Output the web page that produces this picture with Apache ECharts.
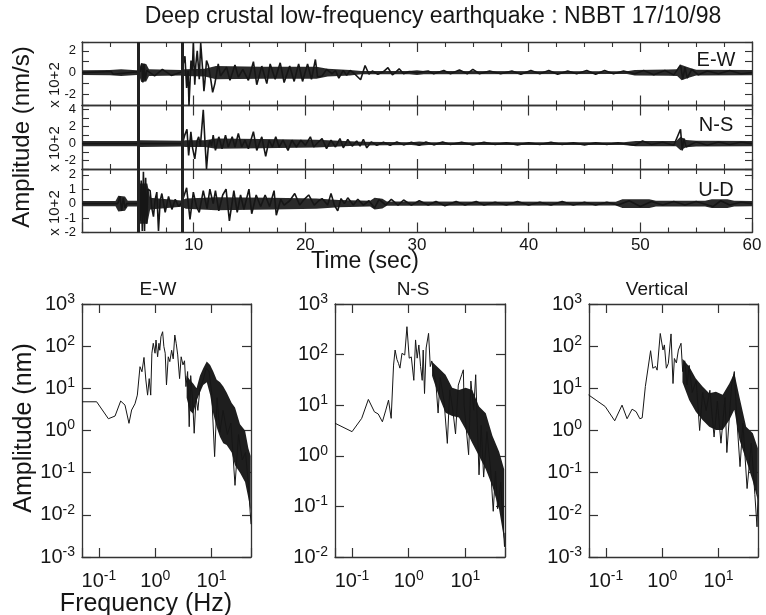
<!DOCTYPE html>
<html>
<head>
<meta charset="utf-8">
<title>Deep crustal low-frequency earthquake</title>
<script src="https://cdn.jsdelivr.net/npm/echarts@6/dist/echarts.min.js"></script>
<style>
  html, body { margin: 0; padding: 0; background: #fff; }
  #chart { width: 766px; height: 615px; }
</style>
</head>
<body>
<div id="chart"></div>
<script>
// ---- seismograms (x10^2 nm/s) ----
// noise envelope, half width
var ewNoiseTime = [0, 2.5, 3.5, 4.9, 5.15, 5.3, 5.75, 6.0, 8.9, 9.2, 11, 12, 16, 21, 22, 24, 25, 29.3, 30, 30.6, 48.8, 49.5, 52.5, 53.3, 53.7, 54.4, 55, 60];
var ewNoiseHalf = [0.22, 0.24, 0.3, 0.22, 0.35, 0.85, 0.8, 0.3, 0.25, 0.3, 0.35, 0.6, 0.55, 0.55, 0.35, 0.25, 0.14, 0.14, 0.22, 0.14, 0.12, 0.25, 0.28, 0.3, 0.7, 0.45, 0.26, 0.24];
var nsNoiseTime = [0, 4.9, 5.2, 8.9, 9.3, 11, 12, 16, 21, 23, 25, 29.5, 30.2, 31, 48.5, 49.6, 53.2, 53.6, 54.1, 55, 60];
var nsNoiseHalf = [0.32, 0.32, 0.4, 0.35, 0.4, 0.4, 0.6, 0.55, 0.45, 0.35, 0.22, 0.17, 0.26, 0.17, 0.17, 0.3, 0.3, 0.8, 0.42, 0.34, 0.3];
var udNoiseTime = [0, 3.0, 3.25, 3.85, 4.1, 5.0, 5.15, 5.85, 6.1, 8.9, 9.3, 12, 17, 21, 23, 25.8, 26.2, 26.9, 27.3, 47.8, 48.4, 50.8, 51.4, 55.8, 56.4, 57.8, 58.4, 60];
var udNoiseHalf = [0.18, 0.18, 0.55, 0.5, 0.2, 0.2, 1.4, 1.4, 0.4, 0.22, 0.35, 0.45, 0.4, 0.35, 0.25, 0.2, 0.4, 0.34, 0.14, 0.13, 0.3, 0.3, 0.2, 0.2, 0.3, 0.3, 0.2, 0.18];

// visible wiggles [time s, amplitude]
var ewTrace = [[0,0],[2.6,0.1],[2.8,-0.15],[5.2,0.1],[5.35,0.85],[5.45,-0.9],[5.55,0.8],[5.65,-0.7],[5.8,0.2],[6.5,-0.3],[7.2,0.3],[8,-0.25],[8.9,0.05],[9.22,1.5],[9.37,-1.4],[9.5,0.2],[9.58,-3.0],[9.76,1.1],[9.88,0.2],[9.97,2.7],[10.1,-1.1],[10.2,0.8],[10.32,2.0],[10.5,-0.6],[10.63,2.7],[10.8,0.3],[10.92,-1.7],[11.0,-0.9],[11.15,1.1],[11.3,0.7],[11.4,0.2],[11.55,-0.75],[11.7,-1.8],[11.9,-1.0],[12.2,0.8],[12.4,-0.3],[12.95,0.5],[13.25,-0.7],[13.7,0.7],[14.0,-0.4],[14.4,0.3],[14.9,-0.7],[15.35,1.0],[15.65,-1.1],[16.1,0.6],[16.55,-1.0],[16.85,0.8],[17.3,-0.6],[17.75,0.9],[18.1,-0.9],[18.6,0.6],[19.0,-0.8],[19.4,0.8],[19.75,-0.8],[20.2,0.8],[20.55,-0.6],[20.9,1.2],[21.1,-0.4],[21.5,-0.3],[21.9,0.3],[22.4,-0.1],[22.7,0.2],[23.0,-0.5],[23.4,0.2],[23.7,-0.25],[24.0,0.2],[24.4,-0.1],[24.95,-0.65],[25.35,0.65],[25.7,-0.15],[26.0,0.15],[26.5,-0.15],[27.0,0.1],[27.4,0.45],[27.8,-0.2],[28.1,0.05],[28.4,0.35],[28.8,-0.1],[29.3,0.1],[30,0],[31,0.15],[31.5,-0.1],[32.4,0.2],[33,-0.1],[33.8,0.25],[34.5,-0.1],[35.0,0.3],[35.6,-0.1],[36.5,0.15],[37.5,-0.1],[38.5,0.15],[39.3,-0.15],[40.2,0.2],[41,-0.1],[41.8,0.2],[42.6,-0.15],[43.5,0.15],[44.3,-0.1],[45.2,0.2],[46,-0.15],[46.8,0.2],[47.6,-0.1],[48.5,0.15],[49.5,-0.1],[50.3,0.2],[51.2,-0.2],[52.2,0.2],[53.0,-0.2],[53.6,0.7],[53.8,-0.6],[54.0,0.5],[54.2,-0.5],[54.6,0.3],[55.2,-0.2],[56,0.15],[57,-0.1],[58,0.2],[59,-0.1],[60,0]];
var nsTrace = [[0,0],[9.0,0],[9.2,1.0],[9.4,1.7],[9.55,-1.4],[9.75,1.4],[9.9,-0.5],[10.1,-1.8],[10.3,0.3],[10.45,0.8],[10.6,-0.3],[10.86,4.0],[11.0,0.5],[11.15,-3.0],[11.3,-0.5],[11.46,0.4],[11.6,-0.3],[11.75,1.0],[11.95,-0.8],[12.25,0.8],[12.55,-0.6],[12.85,1.0],[13.1,-0.4],[13.45,0.8],[13.7,-0.4],[14.0,1.2],[14.3,-0.4],[14.6,0.4],[14.9,-0.6],[15.35,1.4],[15.65,-0.8],[16.1,0.8],[16.45,-1.5],[16.75,0.4],[17.05,-0.4],[17.35,0.8],[17.65,-0.4],[18.0,0.4],[18.45,-0.8],[18.8,0.4],[19.2,-0.4],[19.6,0.4],[20.0,-0.2],[20.45,0.8],[20.75,-0.4],[21.1,0.1],[21.5,0.6],[21.9,-0.6],[22.3,0.4],[22.7,-0.4],[23.1,0.6],[23.4,-0.5],[23.8,0.5],[24.2,-0.3],[24.6,0.3],[24.9,-0.3],[25.2,0.5],[25.5,-0.5],[25.9,0.2],[26.4,-0.2],[27.0,0.15],[27.6,-0.2],[28.2,0.2],[28.8,-0.15],[29.5,0.15],[30.2,-0.2],[30.8,0.2],[31.5,-0.15],[32.3,0.2],[33.0,-0.1],[34,0.15],[35,-0.15],[36,0.15],[37,-0.1],[38,0.1],[39,-0.15],[40,0.1],[41,-0.1],[42,0.15],[43,-0.1],[44,0.1],[45,-0.15],[46,0.1],[47,-0.1],[48,0.1],[49.5,-0.2],[50.2,0.3],[51,-0.1],[52,0.15],[53,-0.2],[53.6,1.7],[53.75,-0.8],[53.9,0.6],[54.1,-0.4],[55,0.2],[56,-0.2],[57,0.2],[58,-0.1],[59,0.15],[60,0]];
var udTrace = [[0,0],[3.2,0],[3.4,0.5],[3.55,-0.5],[3.7,0.4],[3.85,-0.3],[4.0,0],[5.0,0],[5.1,0.8],[5.2,-1.2],[5.3,1.6],[5.4,-1.9],[5.5,2.2],[5.6,-1.9],[5.7,1.8],[5.8,-1.4],[5.9,1.0],[6.1,0.9],[6.25,-0.3],[6.4,-0.9],[6.55,0.3],[6.7,0.8],[6.85,-1.9],[7.0,0.2],[7.15,0.7],[7.45,-0.6],[7.75,0.5],[8.05,-0.4],[8.35,0.3],[8.65,-0.2],[8.95,0.1],[9.37,1.1],[9.67,-1.1],[9.97,0.8],[10.25,-0.2],[10.5,-0.6],[10.86,0.9],[11.2,-0.35],[11.45,1.0],[11.75,0.0],[11.95,0.9],[12.25,-0.5],[12.6,0.6],[12.9,1.0],[13.2,-1.2],[13.6,0.9],[13.9,-0.6],[14.2,0.6],[14.5,-0.4],[14.95,1.0],[15.2,-0.7],[15.6,0.6],[16.0,-0.2],[16.4,0.6],[16.8,-0.2],[17.2,0.9],[17.4,-0.8],[17.8,0.3],[18.1,-0.1],[18.6,0.2],[19.05,0.7],[19.5,-0.1],[19.9,0.3],[20.3,0.6],[20.8,-0.1],[21.2,0.2],[21.5,0.35],[22.0,-0.1],[22.3,0.7],[22.6,-0.1],[22.9,-0.5],[23.2,0.35],[23.5,0],[23.8,0.4],[24.3,-0.1],[24.7,0.3],[25.2,-0.1],[25.7,0.2],[26.2,-0.3],[26.6,0.3],[27.2,-0.1],[27.7,0.3],[28.3,-0.1],[28.8,0.25],[29.5,-0.1],[30.2,0.2],[31,-0.1],[31.7,0.15],[32.5,-0.15],[33.5,0.15],[34.3,-0.1],[35.3,0.15],[36,-0.1],[37,0.1],[38,-0.1],[39,0.15],[40,-0.1],[41,0.1],[42,-0.1],[43,0.15],[44,-0.1],[45,0.1],[46,-0.1],[47,0.1],[48,-0.1],[49,0.2],[50,-0.2],[51,0.15],[52,-0.1],[53,0.15],[54,-0.1],[55,0.15],[56.5,-0.2],[57.2,0.2],[58,-0.1],[59,0.1],[60,0]];

var phasePicks = [5.05, 8.95];   // P and S picks (s)
var timeTicks = [0, 60, 10];     // min, max, step
var udOddLabels = [1, -1];       // tick labels between the even ones on the U-D panel

// ---- amplitude spectra [Hz, nm] ----
var ewSpectrum = [[0.05,4.8],[0.091,4.8],[0.147,1.9],[0.193,2.2],[0.243,5.0],[0.29,4.0],[0.341,1.48],[0.38,3.06],[0.436,4.3],[0.48,6.9],[0.535,32.6],[0.58,24.7],[0.63,54],[0.68,15.8],[0.73,6.9],[0.78,17],[0.83,6.9],[0.87,68],[0.92,117],[0.99,68],[1.03,140],[1.1,56],[1.16,117],[1.2,80],[1.26,168],[1.35,220],[1.42,98],[1.5,68],[1.58,12],[1.7,56],[1.81,43],[1.95,80],[2.08,50],[2.22,184],[2.35,117],[2.5,62],[2.7,17],[2.88,56],[3.1,36],[3.3,45],[3.5,11],[3.75,25],[4.0,1.23],[4.25,20],[4.6,5.3],[4.9,0.86],[5.3,6],[5.7,3],[6.2,10],[7.0,15],[8.0,30],[9.0,25],[10.0,8],[11.3,0.24],[12.5,6],[14,0.9],[16,3],[19,0.8],[22,1.5],[26,0.05],[30,0.8],[35,0.2],[40,0.3],[45,0.05],[50,0.006]];
var ewBandFreq = [3.6, 4.1, 4.7, 5.4, 6.2, 7.1, 8.2, 9.4, 10.7, 12.3, 14.1, 16.1, 18.5, 22.7, 26, 31.9, 39.2, 44.9, 49.3];
var ewBandHigh = [20, 16, 13, 10, 20, 30, 43, 36, 25, 16, 14, 11, 8, 4.5, 3.5, 1.4, 1.0, 0.38, 0.25];
var ewBandLow  = [6, 3, 2.5, 5, 8, 12, 14, 7, 2.5, 1.2, 0.7, 0.5, 0.45, 0.3, 0.15, 0.1, 0.06, 0.025, 0.012];

var nsSpectrum = [[0.05,4.4],[0.10,3.0],[0.148,5.5],[0.194,13],[0.248,7.4],[0.29,6.7],[0.343,4.7],[0.394,8],[0.44,12.6],[0.49,5.5],[0.54,62],[0.575,123],[0.62,80],[0.66,67],[0.7,54],[0.76,106],[0.85,98],[0.93,356],[1.02,85],[1.11,90],[1.23,31],[1.32,195],[1.41,85],[1.51,155],[1.62,58],[1.73,31],[1.8,123],[1.9,17],[2.03,135],[2.24,263],[2.4,58],[2.55,75],[2.73,45],[3.0,30],[3.3,7],[3.6,35],[4.2,12],[4.8,1.76],[5.3,20],[6.0,8],[6.7,2.7],[7.5,25],[8.6,40],[9.2,50],[9.5,10],[11.4,1.05],[12.5,30],[14,8],[15.2,40],[17.4,0.42],[19,4],[21,0.38],[24,3],[28,0.5],[31,0.08],[34,0.5],[37,0.09],[42,0.3],[46,0.05],[49,0.016],[50,0.03]];
var nsBandFreq = [2.58, 3.4, 4.46, 5.85, 7.7, 10.1, 13.2, 17.4, 22.9, 30, 39.4, 48.3];
var nsBandHigh = [72, 54, 40, 22, 20, 22, 20, 9.4, 6.9, 2.5, 1.2, 0.54];
var nsBandLow  = [38, 15, 7.1, 6.1, 5.7, 3.3, 1.8, 0.99, 0.54, 0.25, 0.087, 0.022];

var udSpectrum = [[0.049,7.0],[0.097,3.7],[0.143,1.7],[0.193,4.0],[0.237,1.9],[0.291,3.2],[0.343,2.8],[0.40,1.9],[0.44,2.0],[0.50,11],[0.62,78],[0.68,30],[0.76,33],[0.81,27],[0.92,200],[1.03,81],[1.09,107],[1.18,30],[1.28,39],[1.43,195],[1.55,13],[1.64,51],[1.78,40],[1.93,81],[2.15,117],[2.3,25],[2.5,45],[2.75,12],[3.0,35],[3.4,8],[4.0,15],[4.6,1.0],[5.2,8],[6.0,3],[7.0,9],[8.3,0.7],[9.5,5],[11,0.5],[13,6],[14,0.3],[17,12],[19,25],[21,2],[24,0.139],[27,1.5],[32,0.042],[38,0.5],[44,0.03],[48,0.0052],[50,0.03]];
var udBandFreq = [2.28, 3.0, 3.94, 5.18, 6.81, 8.96, 11.8, 15.5, 19.0, 23.4, 30.8, 40.5, 49.7];
var udBandHigh = [50, 33, 17, 11, 7.6, 8.3, 7, 13, 23, 6.3, 1.23, 0.86, 0.38];
var udBandLow  = [14, 5.3, 2.8, 1.77, 1.23, 1.03, 1.03, 1.77, 3.1, 0.6, 0.2, 0.062, 0.022];

var FONT = '"Liberation Sans", Arial, Helvetica, sans-serif';
var INK = '#161616';
var AXIS = '#333';

var seisPanels = [
  { name: 'E-W', trace: ewTrace, nt: ewNoiseTime, nh: ewNoiseHalf, min: -3, max: 2.8, step: 2, top: 42 },
  { name: 'N-S', trace: nsTrace, nt: nsNoiseTime, nh: nsNoiseHalf, min: -3, max: 4.5, step: 2, top: 105.5 },
  { name: 'U-D', trace: udTrace, nt: udNoiseTime, nh: udNoiseHalf, min: -2, max: 2.4, step: 1, top: 169, extra: udOddLabels }
];
var specPanels = [
  { name: 'E-W', line: ewSpectrum, bf: ewBandFreq, bh: ewBandHigh, bl: ewBandLow, ymin: 1e-3, left: 82, width: 169, titleX: 158 },
  { name: 'N-S', line: nsSpectrum, bf: nsBandFreq, bh: nsBandHigh, bl: nsBandLow, ymin: 1e-2, left: 335, width: 170, titleX: 413 },
  { name: 'Vertical', line: udSpectrum, bf: udBandFreq, bh: udBandHigh, bl: udBandLow, ymin: 1e-3, left: 589, width: 169, titleX: 657 }
];

function bandSeries(xi, yi, xs, hi, lo, color) {
  return {
    type: 'custom', xAxisIndex: xi, yAxisIndex: yi, silent: true, z: 2, clip: true,
    data: [[xs[0], hi[0]]],
    renderItem: function (params, api) {
      var pts = [];
      for (var k = 0; k < xs.length; k++) pts.push(api.coord([xs[k], hi[k]]));
      for (var j = xs.length - 1; j >= 0; j--) pts.push(api.coord([xs[j], lo[j]]));
      return { type: 'polygon', shape: { points: pts }, style: { fill: color } };
    }
  };
}

function powLabel(v) {
  var e = Math.log10(v), r = Math.round(e);
  if (Math.abs(e - r) > 1e-6) return '';
  return '{b|10}{s|' + r + '}';
}
function powRich() {
  return {
    b: { fontSize: 20, fontFamily: FONT, color: INK, lineHeight: 24 },
    s: { fontSize: 14, fontFamily: FONT, color: INK, lineHeight: 13, verticalAlign: 'top' }
  };
}
function line(w) { return { show: true, onZero: false, lineStyle: { color: AXIS, width: w } }; }

var grids = [], xAxes = [], yAxes = [], series = [];

// even integer labels (multiples of 2)
function evenLabels(v) {
  var r = Math.round(v);
  if (Math.abs(v - r) > 1e-9 || r % 2 !== 0) return '';
  return String(r);
}

seisPanels.forEach(function (p, i) {
  grids.push({ left: 82, top: p.top, width: 670, height: 63.5, outerBoundsMode: 'none' });
  ['bottom', 'top'].forEach(function (pos) {
    var showLab = pos === 'bottom' && i === 2;
    xAxes.push({
      type: 'value', gridIndex: i, position: pos,
      min: timeTicks[0], max: timeTicks[1], interval: timeTicks[2],
      axisLine: line(1.3), splitLine: { show: false },
      axisTick: { inside: true, length: 10, lineStyle: { color: AXIS, width: 1.2 } },
      minorTick: { show: true, splitNumber: 4, length: 5, lineStyle: { color: AXIS, width: 1.1 } },
      axisLabel: {
        show: showLab, margin: 4, fontSize: 17, fontFamily: FONT, color: INK,
        formatter: function (v) { return v === 0 ? '' : String(v); }
      }
    });
  });
  var yi = yAxes.length;
  ['left', 'right'].forEach(function (pos) {
    yAxes.push({
      type: 'value', gridIndex: i, position: pos, min: p.min, max: p.max, interval: 1,
      axisLine: line(1.3), splitLine: { show: false },
      axisTick: { inside: true, length: 7, lineStyle: { color: AXIS, width: 1.1 } },
      axisLabel: {
        show: pos === 'left', margin: 6, fontSize: 13, lineHeight: 12,
        showMinLabel: true, showMaxLabel: true, hideOverlap: false,
        fontFamily: FONT, color: INK, formatter: evenLabels
      }
    });
  });
  var negBand = p.nh.map(function (h) { return -h; });
  series.push(bandSeries(2 * i, yi, p.nt, p.nh, negBand, '#2a2a2a'));
  series.push({
    type: 'line', xAxisIndex: 2 * i, yAxisIndex: yi, data: p.trace, symbol: 'none', z: 3,
    lineStyle: { color: INK, width: 1.6 }, silent: true,
    markLine: {
      silent: true, symbol: ['none', 'none'], label: { show: false },
      lineStyle: { color: '#222', width: 3, type: 'solid' },
      data: phasePicks.map(function (t) { return { xAxis: t }; })
    }
  });
  if (p.extra) {
    // odd tick labels placed through the panel's own y scale
    series.push({
      type: 'custom', xAxisIndex: 2 * i, yAxisIndex: yi, silent: true, clip: false, z: 5,
      data: p.extra.map(function (v) { return [timeTicks[0], v]; }),
      renderItem: function (params, api) {
        var pt = api.coord([api.value(0), api.value(1)]);
        return {
          type: 'text', x: pt[0] - 6, y: pt[1],
          style: { text: String(api.value(1)), font: '13px ' + FONT, fill: INK,
            textAlign: 'right', textVerticalAlign: 'middle', align: 'right', verticalAlign: 'middle' }
        };
      }
    });
  }
});

specPanels.forEach(function (p, k) {
  var g = 3 + k;
  grids.push({ left: p.left, top: 304, width: p.width, height: 253, outerBoundsMode: 'none' });
  ['bottom', 'top'].forEach(function (pos) {
    xAxes.push({
      type: 'log', logBase: 10, gridIndex: g, position: pos, min: 0.05, max: 50, splitNumber: 3,
      axisLine: line(1.3), splitLine: { show: false },
      axisTick: { inside: true, length: 9, lineStyle: { color: AXIS, width: 1.2 } },
      axisLabel: { show: pos === 'bottom', margin: 12, formatter: powLabel, rich: powRich() }
    });
  });
  var yi = yAxes.length;
  ['left', 'right'].forEach(function (pos) {
    yAxes.push({
      type: 'log', logBase: 10, gridIndex: g, position: pos, min: p.ymin, max: 1e3,
      splitNumber: Math.round(3 - Math.log10(p.ymin)),
      axisLine: line(1.3), splitLine: { show: false },
      axisTick: { inside: true, length: 9, lineStyle: { color: AXIS, width: 1.2 } },
      axisLabel: { show: pos === 'left', margin: 7, formatter: powLabel, rich: powRich() }
    });
  });
  series.push(bandSeries(2 * g, yi, p.bf, p.bh, p.bl, '#1e1e1e'));
  series.push({
    type: 'line', xAxisIndex: 2 * g, yAxisIndex: yi, data: p.line, symbol: 'none', z: 3,
    lineStyle: { color: INK, width: 1 }, silent: true
  });
});

function txt(x, y, s, size, rot) {
  return {
    type: 'text', x: x, y: y, rotation: rot || 0, silent: true,
    style: { text: s, font: size + 'px ' + FONT, fill: INK,
      textAlign: 'center', textVerticalAlign: 'middle', align: 'center', verticalAlign: 'middle' }
  };
}

var graphics = [
  txt(433, 17, 'Deep crustal low-frequency earthquake : NBBT 17/10/98', 23),
  txt(22, 137, 'Amplitude (nm/s)', 24, Math.PI / 2),
  txt(55, 85, 'x 10+2', 15, Math.PI / 2),
  txt(55, 149, 'x 10+2', 15, Math.PI / 2),
  txt(55, 213, 'x 10+2', 15, Math.PI / 2),
  txt(716, 60, 'E-W', 20),
  txt(716, 125, 'N-S', 20),
  txt(716, 190, 'U-D', 20),
  txt(365, 262, 'Time (sec)', 23),
  txt(24, 428, 'Amplitude (nm)', 25, Math.PI / 2),
  txt(146, 604, 'Frequency (Hz)', 25)
];
specPanels.forEach(function (p) { graphics.push(txt(p.titleX, 290, p.name, 19)); });

var myChart = echarts.init(document.getElementById('chart'), null, { renderer: 'canvas' });
myChart.setOption({
  backgroundColor: '#ffffff',
  animation: false,
  grid: grids,
  xAxis: xAxes,
  yAxis: yAxes,
  series: series,
  graphic: graphics
});
</script>
</body>
</html>
